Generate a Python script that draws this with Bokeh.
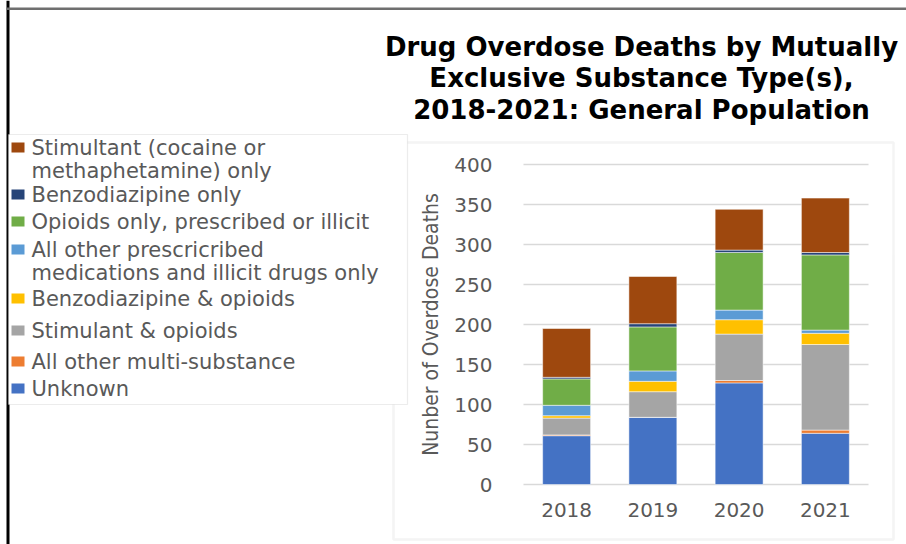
from bokeh.plotting import figure
from bokeh.models import (Range1d, Label, BoxAnnotation, ColumnDataSource, LinearAxis,
                          FixedTicker)
from bokeh.embed import file_html
from bokeh.resources import INLINE

# ---------------- data ----------------
years = ["2018", "2019", "2020", "2021"]
unknown = [61, 84, 127, 64]
other_multi = [1, 0, 3, 4]
stim_opioids = [21, 32, 58, 107]
benzo_opioids = [3, 13, 18, 14]
other_rx = [13, 13, 12, 4]
opioids_only = [33, 55, 72, 94]
benzo_only = [2, 4, 3, 3]
stim_only = [61, 59, 51, 68]

y_ticks = [0, 50, 100, 150, 200, 250, 300, 350, 400]

series_keys = ["unknown", "other_multi", "stim_opioids", "benzo_opioids",
               "other_rx", "opioids_only", "benzo_only", "stim_only"]
series_colors = ["#4472C4", "#ED7D31", "#A5A5A5", "#FFC000",
                 "#5B9BD5", "#70AD47", "#264478", "#9E480E"]
series_labels = [
    ["Unknown"],
    ["All other multi-substance"],
    ["Stimulant & opioids"],
    ["Benzodiazipine & opioids"],
    ["All other prescricribed", "medications and illicit drugs only"],
    ["Opioids only, prescribed or illicit"],
    ["Benzodiazipine only"],
    ["Stimultant (cocaine or", "methaphetamine) only"],
]
title_lines = ["Drug Overdose Deaths by Mutually",
               "Exclusive Substance Type(s),",
               "2018-2021: General Population"]
y_title = "Nunber of Overdose Deaths"

# ---------------- layout constants (pixels on the canvas) ----------------
W, H = 906, 544
PL, PR, PT, PB = 523, 868, 164, 484   # plotting area of the bar chart
YMAX = 400
px_x = (PR - PL) / len(years)
px_y = (PB - PT) / YMAX

def cx(X):
    return (X - PL) / px_x

def cy(Y):
    return (PB - Y) / px_y

xpos = [i + 0.5 for i in range(len(years))]
data = dict(xpos=xpos, unknown=unknown, other_multi=other_multi,
            stim_opioids=stim_opioids, benzo_opioids=benzo_opioids,
            other_rx=other_rx, opioids_only=opioids_only,
            benzo_only=benzo_only, stim_only=stim_only)
source = ColumnDataSource(data)

p = figure(width=W, height=H, x_range=Range1d(cx(0), cx(W)), y_range=Range1d(cy(H), cy(0)),
           x_axis_location=None, y_axis_location=None, min_border=0,
           output_backend="svg", toolbar_location=None)
p.outline_line_color = None
p.grid.visible = False
p.background_fill_color = "white"

text_gray = "#595959"

# chart area box
p.add_layout(BoxAnnotation(left=cx(393), right=cx(893), top=cy(142), bottom=cy(539),
                           fill_color=None, fill_alpha=0, line_color="#d9d9d9",
                           line_width=2.5))

# gridlines at the y ticks across the category span
p.segment(x0=[0] * len(y_ticks), x1=[len(years)] * len(y_ticks), y0=y_ticks, y1=y_ticks,
          line_color="#d9d9d9", line_width=1.5)

p.vbar_stack(series_keys, x="xpos", width=0.556, color=series_colors,
             line_color="white", line_width=0.5, source=source)

# axes drawn at fixed locations
yaxis = LinearAxis(fixed_location=0, ticker=FixedTicker(ticks=y_ticks), bounds=(0, YMAX))
yaxis.axis_line_color = None
yaxis.major_tick_line_color = None
yaxis.minor_tick_line_color = None
yaxis.major_label_text_font = "DejaVu Sans"
yaxis.major_label_text_font_size = "20px"
yaxis.major_label_text_color = text_gray
yaxis.major_label_standoff = 25
yaxis.axis_label = y_title
yaxis.axis_label_text_font = "DejaVu Sans Condensed"
yaxis.axis_label_text_font_style = "normal"
yaxis.axis_label_text_font_size = "21px"
yaxis.axis_label_text_color = text_gray
yaxis.axis_label_standoff = 8
p.add_layout(yaxis, "left")

xaxis = LinearAxis(fixed_location=0, ticker=FixedTicker(ticks=xpos),
                   major_label_overrides={x: y for x, y in zip(xpos, years)})
xaxis.axis_line_color = None
xaxis.major_tick_line_color = None
xaxis.minor_tick_line_color = None
xaxis.major_label_text_font = "DejaVu Sans"
xaxis.major_label_text_font_size = "20px"
xaxis.major_label_text_color = text_gray
xaxis.major_label_standoff = 12
p.add_layout(xaxis, "below")

# outer frame lines
p.add_layout(BoxAnnotation(left=cx(6), right=cx(9), top=cy(0), bottom=cy(H),
                           fill_color="black", fill_alpha=1, line_color=None))
p.add_layout(BoxAnnotation(left=cx(6), right=cx(W + 5), top=cy(7), bottom=cy(9.5),
                           fill_color="#6f6f6f", fill_alpha=1, line_color=None))

# title
for i, t in enumerate(title_lines):
    p.add_layout(Label(x=cx(641), y=cy(46 + 31.5 * i), text=t, text_align="center",
                       text_baseline="middle", text_font="DejaVu Sans",
                       text_font_style="bold", text_font_size="26px", text_color="black"))

# legend box
p.add_layout(BoxAnnotation(left=cx(8), right=cx(407), top=cy(134), bottom=cy(404),
                           fill_color="white", fill_alpha=1, line_color="#bfbfbf",
                           line_width=1.2))
legend_rows_y = [147, 194, 221, 249, 298, 330, 361, 388]
line_step = 23
for ry, idx in zip(legend_rows_y, range(len(series_keys) - 1, -1, -1)):
    p.add_layout(BoxAnnotation(left=cx(11), right=cx(24), top=cy(ry - 5), bottom=cy(ry + 5),
                               fill_color=series_colors[idx], fill_alpha=1, line_color=None))
    for j, line in enumerate(series_labels[idx]):
        p.add_layout(Label(x=cx(31), y=cy(ry + line_step * j), text=line,
                           text_align="left", text_baseline="middle",
                           text_font="DejaVu Sans", text_font_size="21px",
                           text_color=text_gray))

open("out.html", "w").write(file_html(p, INLINE))
